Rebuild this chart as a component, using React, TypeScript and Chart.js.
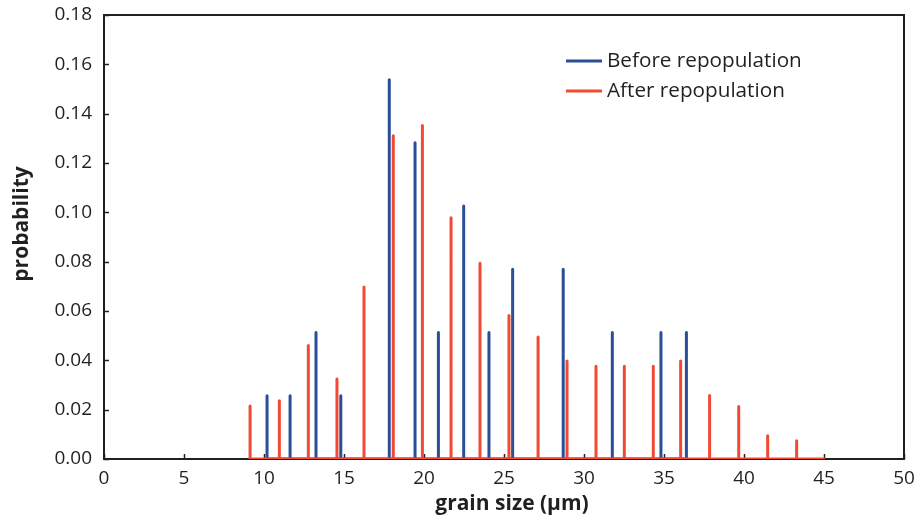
import React, { useEffect, useRef } from "react";
import { Chart, registerables } from "chart.js";

Chart.register(...registerables);

const blueSizes = [10.19, 11.63, 13.25, 14.8, 17.83, 19.44, 20.9, 22.48, 24.06, 25.54, 28.7, 31.77, 34.81, 36.4];
const blueProb = [0.0256, 0.0256, 0.0513, 0.0256, 0.1538, 0.1282, 0.0513, 0.1026, 0.0513, 0.0769, 0.0769, 0.0513, 0.0513, 0.0513];

const redSizes = [9.13, 10.96, 12.77, 14.56, 16.25, 18.08, 19.9, 21.69, 23.5, 25.31, 27.13, 28.94, 30.75, 32.52, 34.33, 36.04, 37.85, 39.67, 41.48, 43.29];
const redProb = [0.0215, 0.0236, 0.046, 0.0324, 0.0697, 0.131, 0.1352, 0.0978, 0.0794, 0.0582, 0.0495, 0.0397, 0.0376, 0.0376, 0.0376, 0.0397, 0.0257, 0.0213, 0.0094, 0.0074];
const redEnd = 45.06;

const seriesNames = ["Before repopulation", "After repopulation"];
const xTitle = "grain size (µm)";
const yTitle = "probability";

const BLUE = "#2a4f97";
const RED = "#f04a35";
const INK = "#231f20";
const FONT = "'Open Sans', sans-serif";

function spikes(xs: number[], ys: number[], end?: number) {
  const pts: { x: number; y: number }[] = [];
  xs.forEach((x, i) => {
    pts.push({ x, y: 0 }, { x, y: ys[i] }, { x, y: 0 });
  });
  if (end !== undefined) pts.push({ x: end, y: 0 });
  return pts;
}

const framePlugin = {
  id: "frame",
  beforeDatasetsDraw(chart: any) {
    const { ctx, chartArea: a, scales } = chart;
    ctx.save();
    ctx.strokeStyle = INK;
    ctx.lineWidth = 1.5;
    scales.x.ticks.forEach((t: any) => {
      const px = Math.round(scales.x.getPixelForValue(t.value)) + 0.5;
      ctx.beginPath();
      ctx.moveTo(px, a.bottom);
      ctx.lineTo(px, a.bottom - 5);
      ctx.stroke();
    });
    scales.y.ticks.forEach((t: any) => {
      const py = Math.round(scales.y.getPixelForValue(t.value)) + 0.5;
      ctx.beginPath();
      ctx.moveTo(a.left, py);
      ctx.lineTo(a.left + 5, py);
      ctx.stroke();
    });
    ctx.lineWidth = 2;
    ctx.strokeRect(a.left, a.top, a.right - a.left, a.bottom - a.top);
    ctx.restore();
  },
  afterDraw(chart: any) {
    const { ctx } = chart;
    const colors = [BLUE, RED];
    ctx.save();
    ctx.font = `20.7px ${FONT}`;
    ctx.textBaseline = "middle";
    ctx.textAlign = "left";
    seriesNames.forEach((name, i) => {
      const y = 61 + i * 30;
      ctx.strokeStyle = colors[i];
      ctx.lineWidth = 3;
      ctx.beginPath();
      ctx.moveTo(566, y);
      ctx.lineTo(602, y);
      ctx.stroke();
      ctx.fillStyle = INK;
      ctx.fillText(name, 607, y);
    });
    ctx.fillStyle = INK;
    ctx.font = `bold 21px ${FONT}`;
    ctx.textAlign = "center";
    ctx.textBaseline = "middle";
    ctx.fillText(xTitle, 512, 504);
    ctx.translate(22, 224);
    ctx.rotate(-Math.PI / 2);
    ctx.fillText(yTitle, 0, 0);
    ctx.restore();
  },
};

export default function App() {
  const ref = useRef<HTMLCanvasElement | null>(null);
  useEffect(() => {
    document.body.style.margin = "0";
    const chart = new Chart(ref.current!, {
      type: "line",
      data: {
        datasets: [
          {
            label: seriesNames[0],
            data: spikes(blueSizes, blueProb),
            borderColor: BLUE,
            borderWidth: 3,
            borderJoinStyle: "round",
            pointRadius: 0,
            order: 2,
          },
          {
            label: seriesNames[1],
            data: spikes(redSizes, redProb, redEnd),
            borderColor: RED,
            borderWidth: 3,
            borderJoinStyle: "round",
            pointRadius: 0,
            order: 1,
          },
        ],
      },
      options: {
        responsive: false,
        animation: false,
        layout: { padding: { top: 15, right: 14, bottom: 0, left: 0 } },
        plugins: { legend: { display: false }, tooltip: { enabled: false } },
        scales: {
          x: {
            type: "linear",
            min: 0,
            max: 50,
            border: { display: false },
            grid: { display: false, drawTicks: false },
            ticks: { stepSize: 5, padding: 8, color: INK, font: { family: FONT, size: 19 } },
            afterFit: (s: any) => {
              s.height = 59;
              s.paddingLeft = 0;
              s.paddingRight = 0;
            },
          },
          y: {
            min: 0,
            max: 0.18,
            border: { display: false },
            grid: { display: false, drawTicks: false },
            ticks: {
              stepSize: 0.02,
              padding: 12,
              color: INK,
              font: { family: FONT, size: 19 },
              callback: (v: any) => Number(v).toFixed(2),
            },
            afterFit: (s: any) => {
              s.width = 104;
              s.paddingTop = 0;
              s.paddingBottom = 0;
            },
          },
        },
      },
      plugins: [framePlugin],
    });
    return () => chart.destroy();
  }, []);
  return (
    <div style={{ width: 918, height: 518 }}>
      <canvas ref={ref} width={918} height={518} />
    </div>
  );
}
